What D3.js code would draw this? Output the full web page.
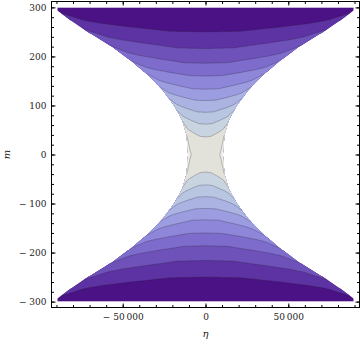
<!DOCTYPE html>
<html>
<head>
<meta charset="utf-8">
<script src="https://cdn.jsdelivr.net/npm/d3@7"></script>
<style>
  body { margin: 0; background: #fff; }
  svg { display: block; }
</style>
</head>
<body>
<script>
// half-width (eta) of the region where the function is defined, by |m|
const boundM   = [0, 40, 70, 100, 130, 160, 190, 220, 250, 275, 300];
const boundEta = [10500, 11500, 14000, 19000, 25500, 34000, 44500, 56500, 71000, 82000, 92000];

// where each contour level crosses eta = 0 (upper half, mirrored below)
const centerM     = [0, 36, 62, 86, 110, 133, 160, 186, 216, 250, 300];
const centerLevel = [9.45, 9, 8, 7, 6, 5, 4, 3, 2, 1, -0.5];

// rise of the level toward the boundary, u = |eta| / half-width
const edgeU    = [0, 0.3, 0.6, 0.8, 0.9, 1.0, 1.3];
const edgeRise = [0, 0.04, 0.3, 0.52, 0.7, 1.15, 2.2];

const levels = [1, 2, 3, 4, 5, 6, 7, 8, 9, 10];
const bandColors = ["#4b1285", "#5d33a3", "#6e52ba", "#7d6ccb", "#8d86d9", "#9c9de0",
                    "#abb3e2", "#b8c6e2", "#c8d5e1", "#e3e2da", "#efede6"];

const etaMax = 89500, mMax = 300;

const mTicks  = [-300, -200, -100, 0, 100, 200, 300];
const mLabels = ["\u2212 300", "\u2212 200", "\u2212 100", "0", "100", "200", "300"];
const mMinor  = d3.range(-300, 301, 20);
const etaTicks  = [-50000, 0, 50000];
const etaLabels = ["\u2212 50\u2009000", "0", "50\u2009000"];
const etaMinor  = d3.range(-90000, 90001, 10000);

const W = 360, H = 344;
const x = d3.scaleLinear().domain([-93000, 93000]).range([51.5, 359.5]);
const y = d3.scaleLinear().domain([-312, 312]).range([307.5, 1.5]);

const halfWidth = d3.scaleLinear().domain(boundM).range(boundEta).clamp(true);
const baseLevel = d3.scaleLinear().domain(centerM).range(centerLevel);
const rise = d3.scaleLinear().domain(edgeU).range(edgeRise);

function field(eta, m) {
  const am = Math.abs(m);
  const u = Math.abs(eta) / halfWidth(am);
  return baseLevel(am) + rise(u);
}

const svg = d3.select("body").append("svg").attr("width", W).attr("height", H);

// clip to the defined region inside the data rectangle
const side = d3.range(-mMax, mMax + 0.01, 1);
const clipPts = side.map(m => [Math.min(halfWidth(Math.abs(m)), etaMax), m])
  .concat(side.slice().reverse().map(m => [-Math.min(halfWidth(Math.abs(m)), etaMax), m]));
svg.append("clipPath").attr("id", "region")
  .append("path")
  .attr("d", d3.line().x(d => x(d[0])).y(d => y(d[1]))(clipPts) + "Z");

// sample the field on a grid a bit larger than the data area
const nx = 220, ny = 220;
const e0 = -100000, e1 = 100000, m0 = 320, m1 = -320;
const values = new Array(nx * ny);
for (let j = 0; j < ny; ++j) {
  for (let i = 0; i < nx; ++i) {
    const eta = e0 + (i + 0.5) / nx * (e1 - e0);
    const m = m0 + (j + 0.5) / ny * (m1 - m0);
    values[i + j * nx] = field(eta, m);
  }
}
const contours = d3.contours().size([nx, ny]).thresholds(levels)(values);
const proj = d3.geoTransform({
  point: function(gx, gy) {
    this.stream.point(x(e0 + gx / nx * (e1 - e0)), y(m0 + gy / ny * (m1 - m0)));
  }
});
const path = d3.geoPath(proj);

const plot = svg.append("g").attr("clip-path", "url(#region)");
plot.append("rect")
  .attr("x", x(-etaMax)).attr("y", y(mMax))
  .attr("width", x(etaMax) - x(-etaMax)).attr("height", y(-mMax) - y(mMax))
  .attr("fill", bandColors[0]);
plot.selectAll("path.band")
  .data(contours)
  .join("path")
    .attr("class", "band")
    .attr("d", path)
    .attr("fill", (d, i) => bandColors[i + 1])
    .attr("stroke", "rgba(40,30,40,0.38)")
    .attr("stroke-width", 0.7);

// frame
svg.append("rect")
  .attr("x", 51.5).attr("y", 1.5)
  .attr("width", 308).attr("height", 306)
  .attr("fill", "none").attr("stroke", "#000").attr("stroke-width", 1);

function ticks(g, axis) {
  g.call(axis).call(a => a.select(".domain").remove());
  g.selectAll(".tick line").attr("stroke", "#000");
}

const font = "DejaVu Serif";
// left
svg.append("g").attr("transform", "translate(51.5,0)")
  .call(g => ticks(g, d3.axisLeft(y).tickValues(mMinor).tickSize(-2.5).tickFormat("")));
svg.append("g").attr("transform", "translate(51.5,0)")
  .call(g => ticks(g, d3.axisLeft(y).tickValues(mTicks).tickSize(-4).tickPadding(5)
    .tickFormat((d, i) => mLabels[i])))
  .call(g => g.selectAll("text").attr("font-family", font).attr("font-size", 9).attr("fill", "#222"));
// right
svg.append("g").attr("transform", "translate(359.5,0)")
  .call(g => ticks(g, d3.axisRight(y).tickValues(mMinor).tickSize(-2.5).tickFormat("")));
svg.append("g").attr("transform", "translate(359.5,0)")
  .call(g => ticks(g, d3.axisRight(y).tickValues(mTicks).tickSize(-4).tickFormat("")));
// bottom
svg.append("g").attr("transform", "translate(0,307.5)")
  .call(g => ticks(g, d3.axisBottom(x).tickValues(etaMinor).tickSize(-2.5).tickFormat("")));
svg.append("g").attr("transform", "translate(0,307.5)")
  .call(g => ticks(g, d3.axisBottom(x).tickValues(etaTicks).tickSize(-4).tickPadding(6)
    .tickFormat((d, i) => etaLabels[i])))
  .call(g => g.selectAll("text").attr("font-family", font).attr("font-size", 9).attr("fill", "#222"));
// top
svg.append("g").attr("transform", "translate(0,1.5)")
  .call(g => ticks(g, d3.axisTop(x).tickValues(etaMinor).tickSize(-2.5).tickFormat("")));
svg.append("g").attr("transform", "translate(0,1.5)")
  .call(g => ticks(g, d3.axisTop(x).tickValues(etaTicks).tickSize(-4).tickFormat("")));

// axis labels
svg.append("text")
  .attr("transform", `translate(10,${y(0)}) rotate(-90)`)
  .attr("text-anchor", "middle")
  .attr("font-family", font).attr("font-style", "italic").attr("font-size", 10)
  .attr("fill", "#222")
  .text("m");
svg.append("text")
  .attr("x", x(0)).attr("y", 337)
  .attr("text-anchor", "middle")
  .attr("font-family", font).attr("font-style", "italic").attr("font-size", 10)
  .attr("fill", "#222")
  .text("\u03b7");
</script>
</body>
</html>
